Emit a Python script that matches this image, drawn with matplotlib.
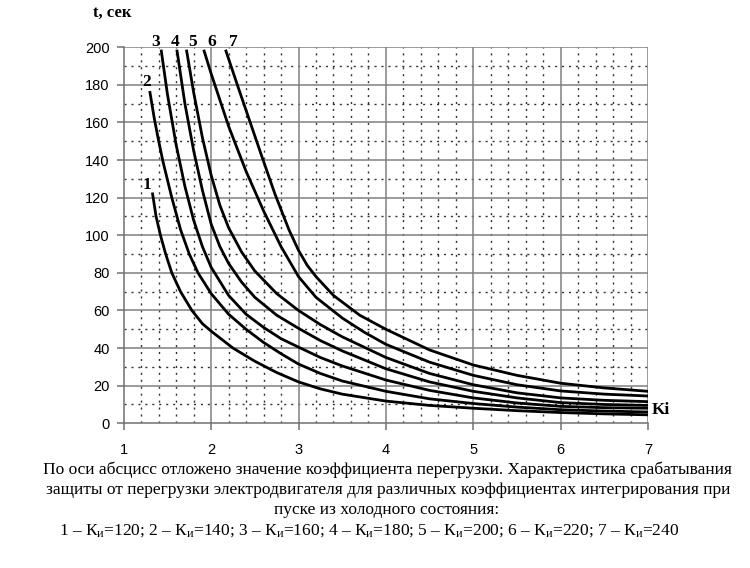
import matplotlib
matplotlib.use('Agg')
import matplotlib.pyplot as plt
import numpy as np

plt.rcParams['mathtext.fontset'] = 'custom'
plt.rcParams['mathtext.rm'] = 'Liberation Serif'
plt.rcParams['mathtext.it'] = 'Liberation Serif:italic'
plt.rcParams['mathtext.bf'] = 'Liberation Serif:bold'

# readings from the reference: overload ratio k -> trip time t, sec
k1 = [1.33, 1.37, 1.42, 1.48, 1.55, 1.65, 1.78, 1.9, 2.0, 2.25, 2.5, 2.75, 3.0, 3.25, 3.5,
      4.0, 4.5, 5.0, 5.5, 6.0, 6.5, 7.0]
t1 = [122, 110, 100, 90, 80, 70, 60, 53, 49, 40, 33, 27, 22, 18.3, 15.5,
      11.8, 9.5, 8, 6.7, 5.7, 5, 4.5]
k2 = [1.30, 1.35, 1.40, 1.45, 1.55, 1.65, 1.75, 1.85, 2.0, 2.2, 2.4, 2.6, 2.8, 3.0, 3.25, 3.5,
      4.0, 4.5, 5.0, 5.5, 6.0, 6.5, 7.0]
t2 = [176, 162, 150, 139, 120, 103, 90, 80, 69, 58, 50, 43, 37, 31.5, 26.5, 22.5,
      17, 13, 10.5, 8.6, 7.2, 6.5, 6]
k3 = [1.43, 1.50, 1.60, 1.70, 1.80, 1.90, 2.0, 2.2, 2.4, 2.6, 2.8, 3.0, 3.25, 3.5,
      4.0, 4.5, 5.0, 5.5, 6.0, 6.5, 7.0]
t3 = [198, 175, 148, 126, 108, 94, 83, 68, 58, 51, 45, 40.5, 35, 30.5,
      23, 17.5, 13.5, 10.8, 9, 8.3, 8]
k4 = [1.61, 1.70, 1.80, 1.90, 2.0, 2.1, 2.2, 2.35, 2.5, 2.75, 3.0, 3.25, 3.5,
      4.0, 4.5, 5.0, 5.5, 6.0, 6.5, 7.0]
t4 = [198, 170, 145, 124, 106, 94, 85, 75, 67, 57.5, 50.5, 44, 38.5,
      29, 22, 17, 13.5, 11, 10, 9.5]
k5 = [1.72, 1.80, 1.90, 2.0, 2.1, 2.2, 2.35, 2.5, 2.75, 3.0, 3.25, 3.5,
      4.0, 4.5, 5.0, 5.5, 6.0, 6.5, 7.0]
t5 = [198, 176, 152, 132, 116, 104, 91, 81, 69, 60, 52.5, 46,
      35, 26.5, 20.5, 16.2, 13.5, 12.2, 11.5]
k6 = [1.92, 2.0, 2.2, 2.4, 2.6, 2.8, 3.0, 3.2, 3.5, 3.75, 4.0, 4.5, 5.0, 5.5, 6.0, 6.5, 7.0]
t6 = [198, 186, 158, 134, 113, 94, 78, 67, 56, 48.5, 42, 32.5, 25.5, 20.5, 17.2, 15.5, 14.5]
k7 = [2.17, 2.3, 2.44, 2.58, 2.73, 2.89, 3.0, 3.1, 3.2, 3.4, 3.7, 4.0, 4.5, 5.0, 5.5,
      6.0, 6.5, 7.0]
t7 = [198, 180, 161, 142, 122, 103, 92, 84, 78, 68, 57.5, 50, 39, 31, 25.5,
      21.3, 18.8, 17]

curve_labels = ['1', '2', '3', '4', '5', '6', '7']
caption_lines = [
    'По оси абсцисс отложено значение коэффициента перегрузки. Характеристика срабатывания',
    'защиты от перегрузки электродвигателя для различных коэффициентах интегрирования при',
    'пуске из холодного состояния:',
    '1 – К$_\\mathrm{и}$=120; 2 – К$_\\mathrm{и}$=140; 3 – К$_\\mathrm{и}$=160; '
    '4 – К$_\\mathrm{и}$=180; 5 – К$_\\mathrm{и}$=200; 6 – К$_\\mathrm{и}$=220; 7 – К$_\\mathrm{и}$=240',
]

fig = plt.figure(figsize=(7.5, 5.68), dpi=100)
ax = fig.add_axes([0.165, 0.2548, 0.699, 0.662])
ax.set_xlim(1, 7)
ax.set_ylim(0, 200)

# grid: solid gray majors, black dotted minors
dots = (0, (1.5, 3.5))
for x in np.arange(1.2, 7, 0.2):
    if abs(x - round(x)) > 0.05:
        ax.axvline(x, color='#333333', lw=1.0, ls=dots, zorder=1)
for y in range(10, 200, 20):
    ax.axhline(y, color='#333333', lw=1.0, ls=dots, zorder=1)
for x in range(2, 8):
    ax.axvline(x, color='#808080', lw=1.1, zorder=1)
for y in range(20, 201, 20):
    ax.axhline(y, color='#808080', lw=1.1, zorder=1)

series = [(k1, t1), (k2, t2), (k3, t3), (k4, t4), (k5, t5), (k6, t6), (k7, t7)]
for k, t in series:
    ax.plot(k, t, color='black', lw=2.0, solid_joinstyle='round', zorder=3)

# curve numbers
lab_font = dict(family='Liberation Serif', fontsize=12.5, fontweight='bold', color='black')
ax.text(1.26, 126.5, curve_labels[0], ha='center', va='center', **lab_font)
ax.text(1.26, 181.7, curve_labels[1], ha='center', va='center', **lab_font)
top_k = [1.36, 1.59, 1.79, 2.01, 2.25]
for lbl, kx in zip(curve_labels[2:], top_k):
    ax.text(kx, 203, lbl, ha='center', va='center', clip_on=False, **lab_font)
ax.text(7.04, 7, 'Ki', ha='left', va='center', **lab_font)

for side in ['top', 'right']:
    ax.spines[side].set_visible(False)
for side in ['left', 'bottom']:
    ax.spines[side].set_color('#707070')
    ax.spines[side].set_linewidth(1.1)

ax.set_xticks(range(1, 8))
ax.set_yticks(range(0, 201, 20))
ax.tick_params(axis='both', colors='#707070', length=5, width=1.1, labelcolor='black',
               labelsize=10.5)
ax.tick_params(axis='x', pad=9)
ax.tick_params(axis='y', pad=5)
for lbl in ax.get_xticklabels() + ax.get_yticklabels():
    lbl.set_family('Liberation Sans')

fig.text(0.150, 0.977, 't, сек', ha='center', va='center', family='Liberation Serif',
         fontsize=12, fontweight='bold')

# caption, one line at a time (last line sits a bit to the left in the original)
cap_x = [0.516, 0.517, 0.516, 0.492]
cap_y = [470, 490, 510, 531]
for line, cx, cy in zip(caption_lines, cap_x, cap_y):
    fig.text(cx, 1 - cy / 568, line, ha='center', va='center', family='Liberation Serif',
             fontsize=12.5)

fig.savefig('out.png', dpi=100, facecolor='white')
